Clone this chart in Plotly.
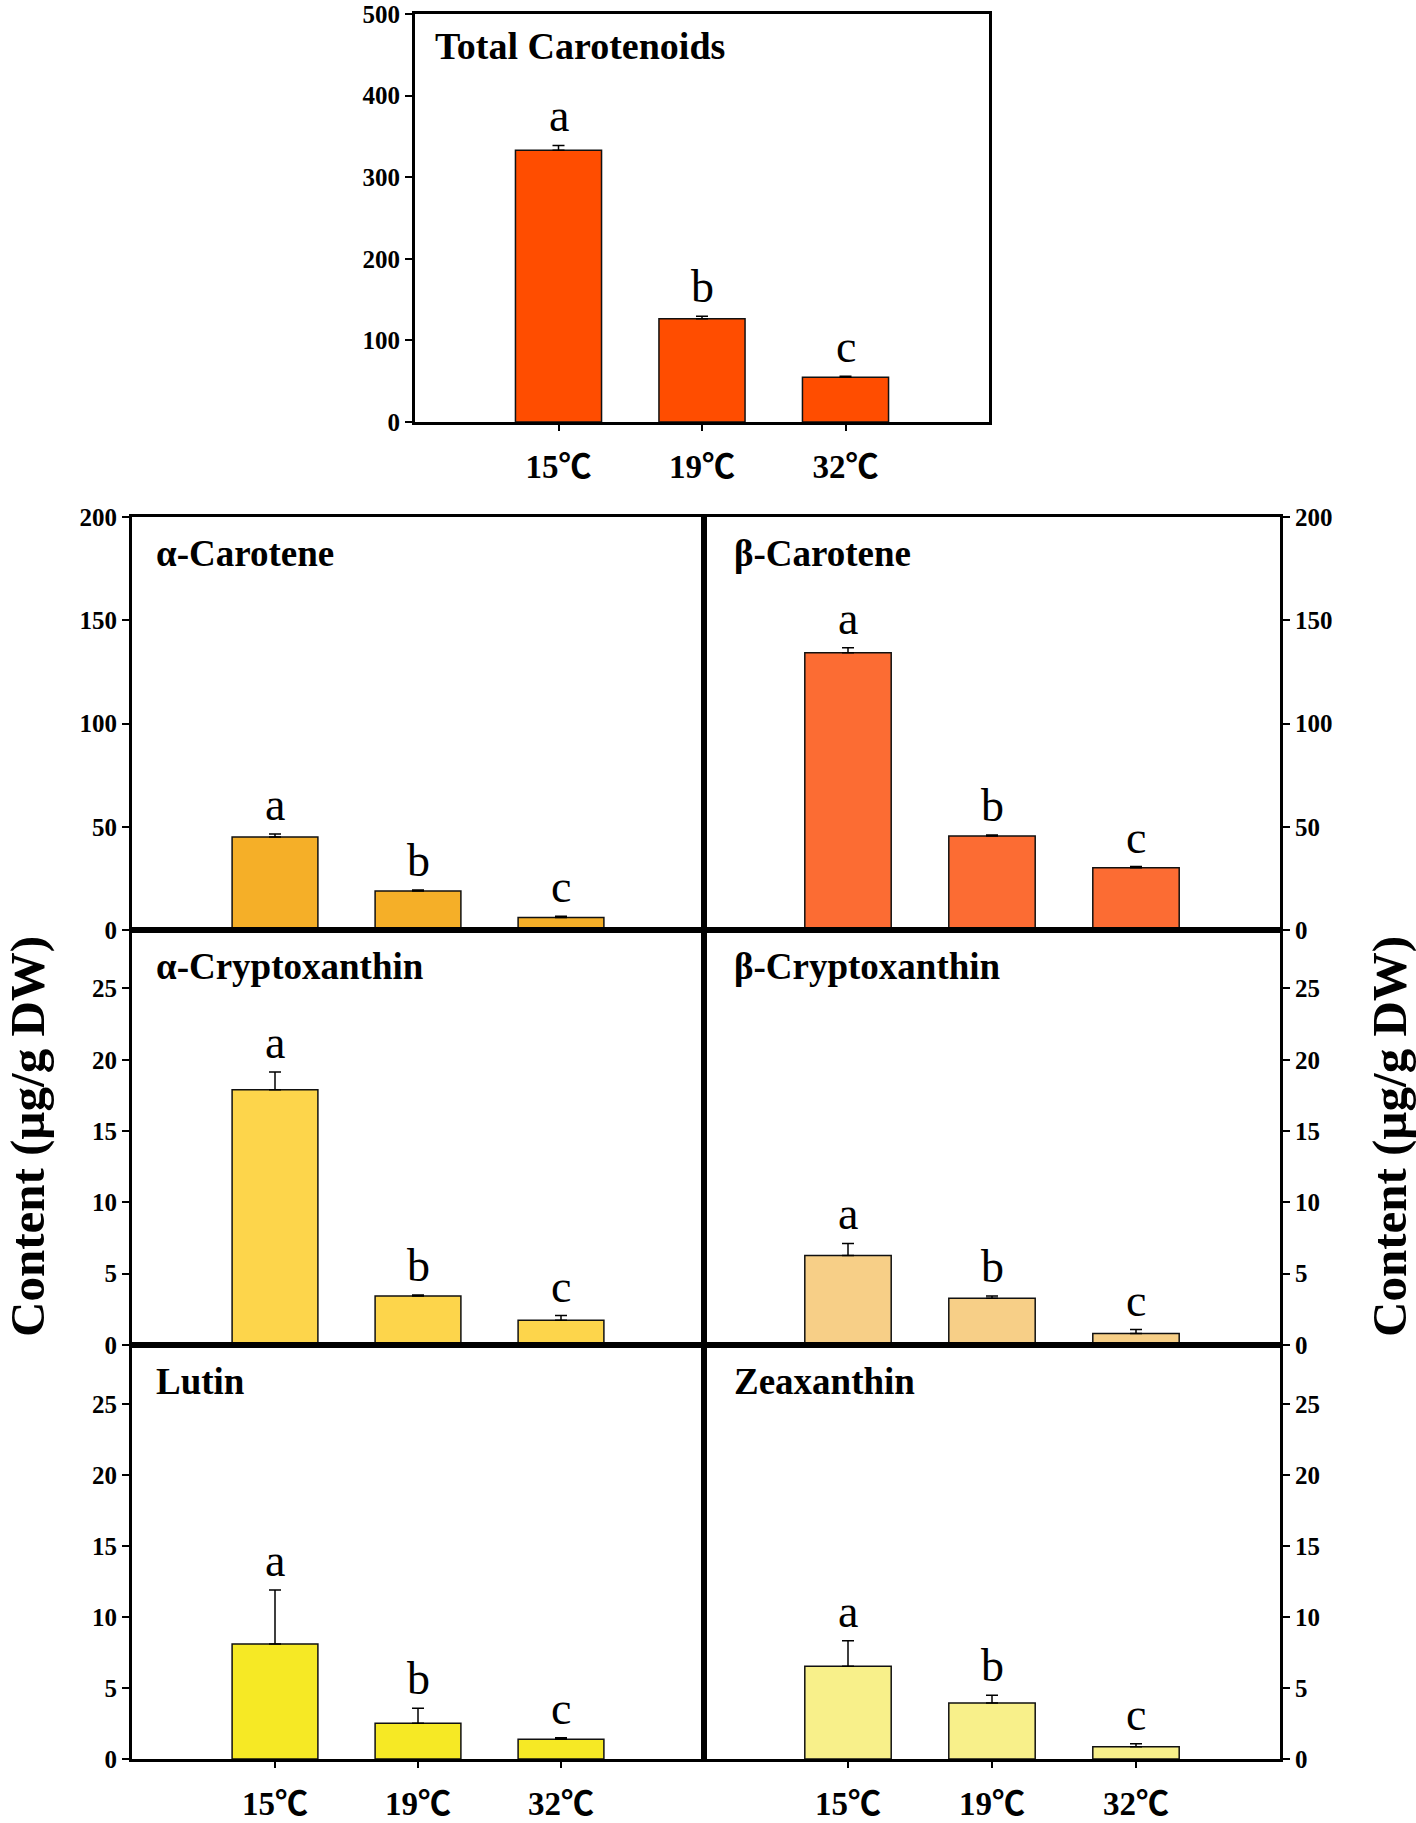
import plotly.graph_objects as go

W, H = 1416, 1823          # browser window
OFF = 0                     # body margin removed by the post script below
FW, FH = W - 2 * OFF, H - 2 * OFF

temps = ["15℃", "19℃", "32℃"]
letters = ["a", "b", "c"]

total_mean = [333.0, 126.4, 54.9]
total_sd = [6.0, 3.2, 1.1]
acar_mean = [45.0, 18.9, 6.1]
acar_sd = [1.5, 0.5, 0.5]
bcar_mean = [134.3, 45.5, 30.2]
bcar_sd = [2.4, 0.5, 0.5]
acry_mean = [17.9, 3.44, 1.73]
acry_sd = [1.25, 0.07, 0.33]
bcry_mean = [6.27, 3.28, 0.80]
bcry_sd = [0.85, 0.16, 0.28]
lut_mean = [8.1, 2.51, 1.39]
lut_sd = [3.8, 1.06, 0.10]
zea_mean = [6.53, 3.94, 0.87]
zea_sd = [1.8, 0.55, 0.21]

titles = ["Total Carotenoids", "α-Carotene", "β-Carotene", "α-Cryptoxanthin",
          "β-Cryptoxanthin", "Lutin", "Zeaxanthin"]
ytitle = "Content (µg/g DW)"

SERIF = "Liberation Serif, Times New Roman, Noto Sans CJK SC, serif"


def px(x):
    return (x - OFF) / FW


def py(y):
    return 1 - (y - OFF) / FH


# (title, mean, sd, color, x px range, y px range, y range, dtick, side, show x labels)
panels = [
    (titles[0], total_mean, total_sd, "#FF4D00", (415, 989), (14, 422), [0, 500], 100, "left", True),
    (titles[1], acar_mean, acar_sd, "#F5AF28", (132, 704), (517, 930), [0, 200], 50, "left", False),
    (titles[2], bcar_mean, bcar_sd, "#FC6C33", (704, 1280), (517, 930), [0, 200], 50, "right", False),
    (titles[3], acry_mean, acry_sd, "#FDD54B", (132, 704), (930, 1345), [0, 29.1], 5, "left", False),
    (titles[4], bcry_mean, bcry_sd, "#F7CF87", (704, 1280), (930, 1345), [0, 29.1], 5, "right", False),
    (titles[5], lut_mean, lut_sd, "#F6E925", (132, 704), (1345, 1759), [0, 29.15], 5, "left", True),
    (titles[6], zea_mean, zea_sd, "#F8F08A", (704, 1280), (1345, 1759), [0, 29.15], 5, "right", True),
]

fig = go.Figure()
annotations = []
layout_axes = {}

for i, (title, mean, sd, color, xpx, ypx, yr, dt, side, showx) in enumerate(panels):
    n = i + 1
    xa = "x" if n == 1 else f"x{n}"
    ya = "y" if n == 1 else f"y{n}"
    xkey = "xaxis" if n == 1 else f"xaxis{n}"
    ykey = "yaxis" if n == 1 else f"yaxis{n}"
    fig.add_trace(go.Bar(
        x=temps, y=mean, width=0.6, xaxis=xa, yaxis=ya,
        marker=dict(color=color, line=dict(color="#111111", width=1.5)),
        error_y=dict(type="data", array=sd, arrayminus=[0] * len(sd), symmetric=False,
                     color="black", thickness=1.5, width=6),
        showlegend=False, hoverinfo="skip",
    ))
    layout_axes[xkey] = dict(
        domain=[px(xpx[0]), px(xpx[1])], anchor=ya, type="category", automargin=False,
        range=[-1, 2 + 1], showline=True, mirror=True, linecolor="black", linewidth=3,
        showgrid=False, zeroline=False,
        ticks="outside" if showx else "", ticklen=6, tickwidth=2, tickcolor="black",
        showticklabels=showx, ticklabelstandoff=7, ticklabeloverflow="allow",
        tickfont=dict(family=SERIF, size=33, color="black", weight="bold"),
        fixedrange=True,
    )
    layout_axes[ykey] = dict(
        domain=[py(ypx[1]), py(ypx[0])], anchor=xa, side=side, automargin=False,
        range=yr, dtick=dt, tick0=0, showline=True, mirror=True, linecolor="black", linewidth=3,
        showgrid=False, zeroline=False, ticks="outside", ticklen=7, tickwidth=2, tickcolor="black",
        ticklabeloverflow="allow",
        tickfont=dict(family=SERIF, size=25, color="black", weight="bold"),
        fixedrange=True,
    )
    # significance letters
    for k in range(len(mean)):
        annotations.append(dict(
            x=temps[k], y=mean[k] + sd[k], xref=xa, yref=ya, text=letters[k],
            showarrow=False, yanchor="bottom", xanchor="center", yshift=2,
            font=dict(family=SERIF, size=46, color="black"),
        ))
    # panel title
    tx = xpx[0] + (18 if n == 1 else 22 if xpx[0] < 700 else 28)
    ty = ypx[0] + (32 if n == 1 else 36)
    annotations.append(dict(
        x=px(tx), y=py(ty), xref="paper", yref="paper", text=title,
        showarrow=False, xanchor="left", yanchor="middle",
        font=dict(family=SERIF, size=38 if n == 1 else 37, color="black", weight="bold"),
    ))

for xp in (27, 1389):
    annotations.append(dict(
        x=px(xp), y=py(1137), xref="paper", yref="paper", text=ytitle,
        showarrow=False, textangle=-90, xanchor="center", yanchor="middle",
        font=dict(family=SERIF, size=49, color="black", weight="bold"),
    ))

fig.update_layout(
    template="none",
    width=FW, height=FH, margin=dict(l=0, r=0, t=0, b=0, autoexpand=False),
    paper_bgcolor="white", plot_bgcolor="white",
    annotations=annotations, bargap=0.4, **layout_axes,
)

fig.write_html("out.html", config={"displayModeBar": False},
               post_script="document.body.style.margin='0px';")
